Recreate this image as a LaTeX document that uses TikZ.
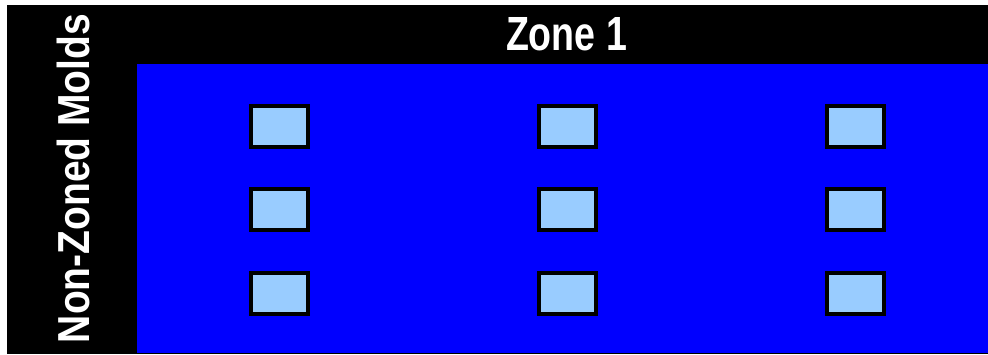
\documentclass[tikz,border=0pt]{standalone}
\usepackage{fontspec}
\setmainfont{Liberation Sans}
\definecolor{zoneblue}{HTML}{0000FF}
\definecolor{moldblue}{HTML}{99CCFF}
\begin{document}
\begin{tikzpicture}[x=1pt,y=-1pt,
  mold/.style={draw=black,line width=4pt,fill=moldblue,minimum width=57pt,minimum height=41pt,inner sep=0pt},
  label/.style={text=white,inner sep=0pt,font=\bfseries}]
\useasboundingbox (0,0) rectangle (988,354);
\fill[white] (0,0) rectangle (988,354);
\fill[black] (7,5) rectangle (988,354);
\fill[zoneblue] (137,64) rectangle (988,353);
\node[label] (zone) at (566.5,34.5) {\resizebox{121pt}{33pt}{Zone 1}};
\node[label,rotate=90] (nonzoned) at (73,178.5) {\resizebox{329pt}{32.5pt}{Non-Zoned Molds}};
\foreach \c/\x in {1/279.5,2/567.5,3/855.5}{
  \foreach \r/\y in {1/126.5,2/209.5,3/293}{
    \node[mold] (m\c\r) at (\x,\y) {};
  }
}
\end{tikzpicture}
\end{document}
